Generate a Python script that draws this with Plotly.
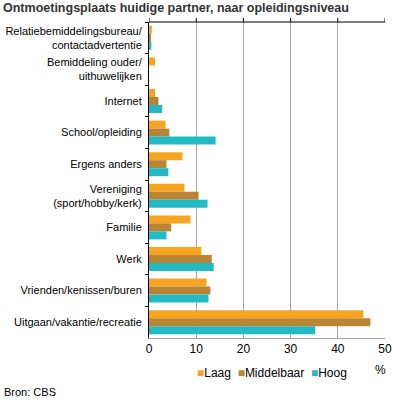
import plotly.graph_objects as go

categories = [
    "Relatiebemiddelingsbureau/<br>contactadvertentie",
    "Bemiddeling ouder/<br>uithuwelijken",
    "Internet",
    "School/opleiding",
    "Ergens anders",
    "Vereniging<br>(sport/hobby/kerk)",
    "Familie",
    "Werk",
    "Vrienden/kenissen/buren",
    "Uitgaan/vakantie/recreatie",
]
laag = [0.6, 1.3, 1.3, 3.5, 7.1, 7.5, 8.8, 11.1, 12.2, 45.4]
middelbaar = [0.4, 0.0, 2.0, 4.3, 3.7, 10.5, 4.7, 13.3, 13.0, 46.9]
hoog = [0.5, 0.0, 2.8, 14.1, 4.1, 12.4, 3.7, 13.7, 12.6, 35.2]
series_names = ["Laag", "Middelbaar", "Hoog"]
colors = ["#F7A520", "#B98535", "#22BBC5"]
x_ticks = [0, 10, 20, 30, 40, 50]

FONT = "Liberation Sans, Arial, sans-serif"
L, R, T, B = 149, 8, 22, 62
W, H = 393, 400
PW, PH = W - L - R, H - T - B

fig = go.Figure()
for name, vals, col in zip(series_names, [laag, middelbaar, hoog], colors):
    fig.add_trace(go.Bar(
        y=categories, x=vals, name=name, orientation="h",
        marker=dict(color=col, line=dict(width=0)),
        showlegend=False,
    ))

fig.update_layout(
    width=W, height=H,
    margin=dict(l=L, r=R, t=T, b=B, autoexpand=False),
    paper_bgcolor="white", plot_bgcolor="white",
    barmode="group", bargap=0.24, bargroupgap=0,
    font=dict(family=FONT, size=11, color="#000000"),
    title=dict(
        text="<b>Ontmoetingsplaats huidige partner, naar opleidingsniveau</b>",
        x=3 / W, xanchor="left", xref="container",
        y=1 - 3 / H, yanchor="top", yref="container",
        font=dict(family=FONT, size=12.5, color="#333333"),
    ),
    xaxis=dict(
        range=[0, 50], tickvals=x_ticks, ticktext=[str(t) for t in x_ticks],
        showgrid=True, gridcolor="#A6A6A6", gridwidth=1,
        showline=True, linecolor="#A6A6A6", linewidth=1,
        ticks="", zeroline=False, automargin=False,
        tickfont=dict(size=12, color="#000000"),
        fixedrange=True,
    ),
    yaxis=dict(
        autorange="reversed", automargin=False,
        showline=True, linecolor="#000000", linewidth=1,
        ticks="outside", ticklen=3, tickcolor="#000000",
        tickson="boundaries",
        showgrid=False, zeroline=False,
        tickfont=dict(size=11, color="#000000"),
        ticklabelstandoff=4,
    ),
)

# top axis line with outward tick marks
fig.add_shape(type="line", xref="paper", yref="paper", x0=0, x1=1, y0=1, y1=1,
              line=dict(color="#000000", width=1))
for t in x_ticks:
    fig.add_shape(type="line", xref="x", yref="paper", x0=t, x1=t,
                  y0=1, y1=1 + 4 / PH, line=dict(color="#000000", width=1))

legend_text = "  ".join(
    f"<span style='color:{c}'>■</span>{n}" for n, c in zip(series_names, colors)
)
fig.add_annotation(
    text=legend_text, xref="paper", yref="paper", x=(195 - L) / PW, y=-35 / PH,
    xanchor="left", yanchor="middle", showarrow=False,
    font=dict(family=FONT, size=12, color="#000000"),
)
fig.add_annotation(
    text="%", xref="paper", yref="paper", x=(388 - L) / PW, y=-32 / PH,
    xanchor="right", yanchor="middle", showarrow=False,
    font=dict(family=FONT, size=12, color="#000000"),
)
fig.add_annotation(
    text="Bron: CBS", xref="paper", yref="paper", x=(2 - L) / PW, y=-54 / PH,
    xanchor="left", yanchor="middle", showarrow=False,
    font=dict(family=FONT, size=11, color="#000000"),
)

fig.write_html(
    "out.html",
    config={"displayModeBar": False},
    post_script="document.body.style.margin='0';document.body.style.padding='0';document.body.style.overflow='hidden';",
)
